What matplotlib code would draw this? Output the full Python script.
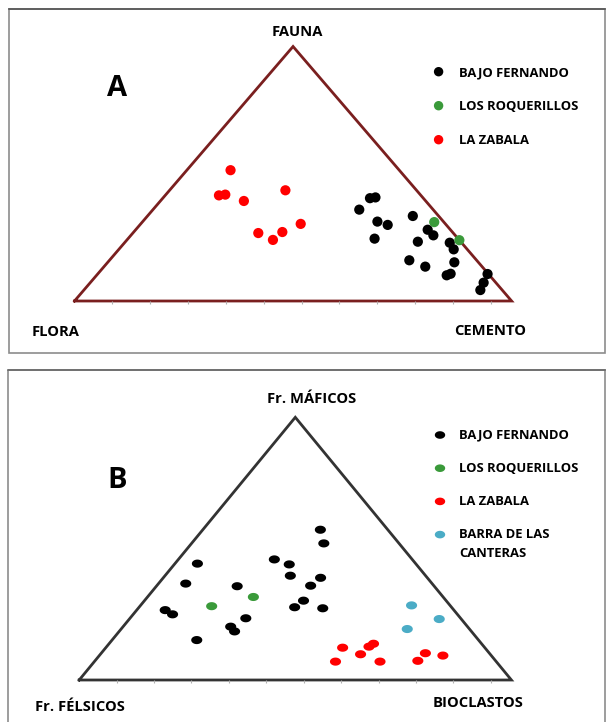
"""Diagramas ternarios A (Fauna-Flora-Cemento) y B (Máficos-Félsicos-Bioclastos)."""

import matplotlib

matplotlib.use("Agg")
import matplotlib.pyplot as plt
import numpy as np
from matplotlib.patches import Rectangle

plt.rcParams["font.family"] = ["Open Sans", "DejaVu Sans"]
plt.rcParams["font.weight"] = "bold"

W, H = 606, 722

# ---- Panel A: % FAUNA (vértice), FLORA (izq.), CEMENTO (der.) ----
a_labels = ["BAJO FERNANDO", "LOS ROQUERILLOS", "LA ZABALA"]
a_colors = ["#000000", "#3a9a3a", "#ff0000"]

a_bf_fauna = [40.4, 40.7, 35.9, 31.2, 29.9, 24.5, 33.4, 28.0, 25.8, 23.3,
              22.9, 20.3, 15.2, 16.0, 13.5, 10.1, 10.7, 10.6, 7.2, 4.3]
a_bf_flora = [12.2, 10.8, 16.9, 15.1, 13.4, 19.1, 5.9, 5.2, 5.0, 9.8,
              2.7, 3.1, 5.5, 15.4, 13.0, 9.8, 8.6, 0.2, 2.8, 5.0]
a_bf_cemento = [47.4, 48.5, 47.2, 53.7, 56.7, 56.4, 60.7, 66.8, 69.2, 66.9,
                74.4, 76.6, 79.3, 68.6, 73.5, 80.1, 80.7, 89.2, 90.0, 90.7]

a_lr_fauna = [31.0, 23.9]
a_lr_flora = [2.2, 0.0]
a_lr_cemento = [66.8, 76.1]

a_lz_fauna = [51.4, 41.5, 41.8, 39.3, 43.5, 30.3, 26.7, 27.1, 24.0]
a_lz_flora = [38.6, 46.2, 44.6, 41.6, 30.0, 33.1, 44.6, 38.9, 42.6]
a_lz_cemento = [10.0, 12.3, 13.6, 19.1, 26.5, 36.6, 28.7, 34.0, 33.4]

# ---- Panel B: % Fr. MÁFICOS (vértice), Fr. FÉLSICOS (izq.), BIOCLASTOS (der.) ----
b_labels = ["BAJO FERNANDO", "LOS ROQUERILLOS", "LA ZABALA", "BARRA DE LAS\nCANTERAS"]
b_colors = ["#000000", "#3a9a3a", "#ff0000", "#4bacc6"]

b_bf_maf = [57.2, 52.0, 44.3, 45.9, 44.0, 39.7, 38.9, 35.9, 36.7, 35.7,
            30.2, 27.7, 27.3, 26.6, 25.0, 23.5, 20.3, 18.5, 15.2]
b_bf_fel = [15.6, 17.4, 50.5, 31.9, 29.4, 31.3, 24.7, 28.5, 57.0, 45.6,
            33.0, 36.3, 30.0, 66.8, 65.9, 49.7, 54.8, 54.8, 65.2]
b_bf_bio = [27.2, 30.6, 5.2, 22.2, 26.6, 29.0, 36.4, 35.6, 6.3, 18.7,
            36.8, 36.0, 42.7, 6.6, 9.1, 26.8, 24.9, 26.7, 19.6]

b_lr_maf = [28.1, 31.6]
b_lr_fel = [55.3, 43.9]
b_lr_bio = [16.6, 24.5]

b_lz_maf = [12.3, 12.7, 13.8, 9.8, 7.0, 7.0, 10.2, 7.3, 9.3]
b_lz_fel = [32.9, 26.6, 25.0, 30.0, 37.2, 26.9, 14.8, 18.0, 11.2]
b_lz_bio = [54.8, 60.7, 61.2, 60.2, 55.8, 66.1, 75.0, 74.7, 79.5]

b_bc_maf = [28.4, 23.2, 19.4]
b_bc_fel = [8.9, 5.1, 14.4]
b_bc_bio = [62.7, 71.7, 66.2]


def to_xy(top, left, right):
    top, left, right = (np.asarray(v, float) for v in (top, left, right))
    total = top + left + right
    y = top / total
    x = right / total + y / 2.0
    return x, y


def triangle_axes(fig, x0, x1, apex_y, base_y, color):
    """Ejes con el triángulo; posiciones en píxeles de la figura."""
    ax = fig.add_axes([x0 / W, 1 - base_y / H, (x1 - x0) / W, (base_y - apex_y) / H])
    ax.set_xlim(0, 1)
    ax.set_ylim(0, 1)
    ax.axis("off")
    ax.plot([0, 1, 0.5, 0], [0, 0, 1, 0], color=color, lw=2.0,
            solid_joinstyle="miter", clip_on=False, zorder=2)
    # marcas del eje x de Excel (cada 10 en base 115.47)
    ticks = np.arange(1, 12) * 10 / (100 / np.cos(np.radians(30)))
    tick_len = 3.0 / (base_y - apex_y)
    ax.vlines(ticks, -tick_len, 0, color="#b0b0b0", lw=0.8, clip_on=False)
    return ax


ellipse = np.column_stack([np.cos(np.linspace(0, 2 * np.pi, 41)),
                           0.73 * np.sin(np.linspace(0, 2 * np.pi, 41))])

fig = plt.figure(figsize=(W / 100, H / 100), dpi=100)
bg = fig.add_axes([0, 0, 1, 1])
bg.set_xlim(0, W)
bg.set_ylim(H, 0)
bg.axis("off")

# marcos de los paneles
bg.add_patch(Rectangle((8.5, 9), 596, 343.5, fill=False, ec="#8c8c8c", lw=1.2))
bg.plot([8.5, 604.5], [9, 9], color="#555555", lw=1.2)
bg.add_patch(Rectangle((8.0, 369.5), 597, 360, fill=False, ec="#8c8c8c", lw=1.2))
bg.plot([8.0, 605], [369.5, 369.5], color="#6a6a6a", lw=1.2)

# ---- A ----
axA = triangle_axes(fig, 74.5, 511.6, 46.5, 301, "#7a1f1f")
a_series = [(a_bf_fauna, a_bf_flora, a_bf_cemento),
            (a_lr_fauna, a_lr_flora, a_lr_cemento),
            (a_lz_fauna, a_lz_flora, a_lz_cemento)]
for (t, l, r), c in zip(a_series, a_colors):
    x, y = to_xy(t, l, r)
    axA.scatter(x, y, s=54, color=c, edgecolors="none", clip_on=False, zorder=3)

bg.text(297, 32, "FAUNA", fontsize=10.6, ha="center", va="center")
bg.text(56, 332, "FLORA", fontsize=10.6, ha="center", va="center")
bg.text(490, 331, "CEMENTO", fontsize=10.6, ha="center", va="center")
bg.text(117, 89, "A", fontsize=21, ha="center", va="center")

for i, (lab, c) in enumerate(zip(a_labels, a_colors)):
    yy = 71.7 + i * 34
    bg.scatter([438.6], [yy], s=46, color=c, edgecolors="none")
    bg.text(458.7, yy + 1, lab, fontsize=9.4, ha="left", va="center")

# ---- B ----
axB = triangle_axes(fig, 79.2, 511.4, 417.3, 680, "#333333")
b_series = [(b_bf_maf, b_bf_fel, b_bf_bio),
            (b_lr_maf, b_lr_fel, b_lr_bio),
            (b_lz_maf, b_lz_fel, b_lz_bio),
            (b_bc_maf, b_bc_fel, b_bc_bio)]
for (t, l, r), c in zip(b_series, b_colors):
    x, y = to_xy(t, l, r)
    axB.scatter(x, y, s=64, marker=ellipse, color=c, edgecolors="none",
                clip_on=False, zorder=3)

bg.text(312, 399, "Fr. MÁFICOS", fontsize=10.6, ha="center", va="center")
bg.text(80, 707, "Fr. FÉLSICOS", fontsize=10.6, ha="center", va="center")
bg.text(478, 703, "BIOCLASTOS", fontsize=10.6, ha="center", va="center")
bg.text(117.5, 480, "B", fontsize=21, ha="center", va="center")

for i, (lab, c) in enumerate(zip(b_labels, b_colors)):
    yy = 435 + i * 33.2
    bg.scatter([440], [yy], s=56, marker=ellipse, color=c, edgecolors="none")
    for j, line in enumerate(lab.split("\n")):
        bg.text(458.8, yy + j * 18.5, line, fontsize=9.4, ha="left", va="center")

fig.savefig("out.png", dpi=100)
